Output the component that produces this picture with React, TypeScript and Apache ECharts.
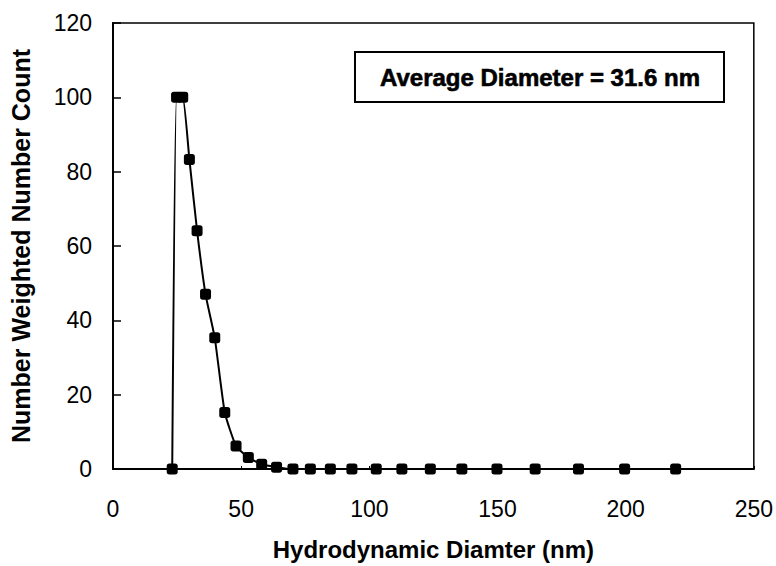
import React, { useEffect, useRef } from "react";
import * as echarts from "echarts";

const diameters = [23.1, 24.8, 27.2, 29.8, 32.8, 36.1, 39.7, 43.6, 48.0, 52.8, 58.0, 63.8, 70.2, 77.0, 84.8, 93.2, 102.7, 112.7, 123.8, 136.1, 149.8, 164.7, 181.6, 199.6, 219.5];
const counts = [0, 100, 100, 83.3, 64.1, 47.0, 35.3, 15.2, 6.2, 3.1, 1.3, 0.5, 0, 0, 0, 0, 0, 0, 0, 0, 0, 0, 0, 0, 0];
const xTicks = [0, 50, 100, 150, 200, 250];
const yTicks = [0, 20, 40, 60, 80, 100, 120];
const annotation = "Average Diameter = 31.6 nm";
const xTitle = "Hydrodynamic Diamter (nm)";
const yTitle = "Number Weighted Number Count";

const FONT = "'Liberation Sans', Arial, Helvetica, sans-serif";

export default function App() {
  const ref = useRef<HTMLDivElement>(null);
  useEffect(() => {
    if (!ref.current) return;
    const chart = echarts.init(ref.current, null, { renderer: "svg" });
    const points = diameters.map((d, i) => [d, counts[i]]);
    chart.setOption({
      animation: false,
      backgroundColor: "#ffffff",
      textStyle: { fontFamily: FONT },
      grid: {
        left: 113,
        right: 22,
        top: 23,
        bottom: 97,
        show: true,
        borderColor: "#000",
        borderWidth: 1.5,
        backgroundColor: "transparent",
      },
      xAxis: {
        type: "value",
        min: xTicks[0],
        max: xTicks[xTicks.length - 1],
        interval: 50,
        name: xTitle,
        nameLocation: "middle",
        nameGap: 68,
        nameTextStyle: { fontFamily: FONT, fontWeight: "bold", fontSize: 24, color: "#000" },
        axisLine: { show: true, lineStyle: { color: "#000", width: 2 } },
        axisTick: { show: true, inside: true, length: 3, lineStyle: { color: "#000", width: 1 } },
        axisLabel: { fontFamily: FONT, fontSize: 23, color: "#000", margin: 28 },
        splitLine: { show: false },
      },
      yAxis: {
        type: "value",
        min: yTicks[0],
        max: yTicks[yTicks.length - 1],
        interval: 20,
        name: yTitle,
        nameLocation: "middle",
        nameGap: 80,
        nameTextStyle: { fontFamily: FONT, fontWeight: "bold", fontSize: 25, color: "#000" },
        axisLine: { show: true, lineStyle: { color: "#000", width: 2 } },
        axisTick: { show: true, inside: true, length: 8, lineStyle: { color: "#000", width: 1.5 } },
        axisLabel: { fontFamily: FONT, fontSize: 23, color: "#000", margin: 21 },
        splitLine: { show: false },
      },
      series: [
        {
          type: "line",
          data: points,
          smooth: 0.15,
          symbol: "roundRect",
          symbolSize: 11,
          showAllSymbol: true,
          lineStyle: { color: "#000", width: 2 },
          itemStyle: { color: "#000" },
          z: 3,
        },
      ],
      graphic: [
        {
          type: "rect",
          shape: { x: 355, y: 52, width: 369, height: 50 },
          style: { fill: "#fff", stroke: "#000", lineWidth: 2 },
          z: 10,
        },
        {
          type: "text",
          x: 540,
          y: 77,
          style: {
            text: annotation,
            fontFamily: FONT,
            fontWeight: "bold",
            fontSize: 24,
            fill: "#000",
            stroke: "#000",
            lineWidth: 0.6,
            align: "center",
            verticalAlign: "middle",
          },
          z: 11,
        },
      ],
    });
    return () => chart.dispose();
  }, []);
  return <div ref={ref} style={{ width: 776, height: 566, position: "absolute", left: 0, top: 0 }} />;
}
